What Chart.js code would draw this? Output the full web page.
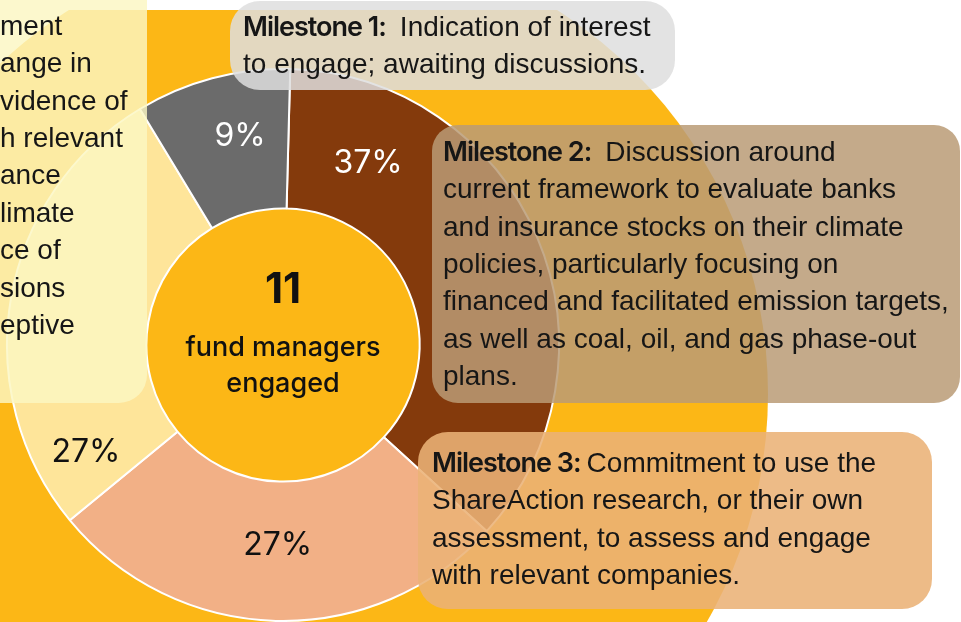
<!DOCTYPE html>
<html>
<head>
<meta charset="utf-8">
<script src="https://cdn.jsdelivr.net/npm/chart.js@4/dist/chart.umd.min.js"></script>
<style>
  html, body { margin: 0; padding: 0; background: #fff; }
  #engagement-chart { display: block; }
</style>
</head>
<body>
<canvas id="engagement-chart" width="961" height="622"></canvas>
<script>
// data: fund managers per milestone, clockwise from top
const milestones = ['Milestone 2', 'Milestone 3', 'Milestone 4', 'Milestone 1'];
const managerCounts = [4, 3, 3, 1];
const percentLabels = ['37%', '27%', '27%', '9%'];
const centerCaption = ['fund managers', 'engaged'];

const milestone1Title = 'Milestone 1:';
const milestone1Text = ['Indication of interest', 'to engage; awaiting discussions.'];
const milestone2Title = 'Milestone 2:';
const milestone2Text = ['Discussion around', 'current framework to evaluate banks', 'and insurance stocks on their climate',
    'policies, particularly focusing on', 'financed and facilitated emission targets,', 'as well as coal, oil, and gas phase-out', 'plans.'];
const milestone3Title = 'Milestone 3:';
const milestone3Text = ['Commitment to use the', 'ShareAction research, or their own', 'assessment, to assess and engage', 'with relevant companies.'];
// milestone 4 box is cut off by the left edge of the picture
const milestone4Text = ['ment', 'ange in', 'vidence of', 'h relevant', 'ance', 'limate', 'ce of', 'sions', 'eptive'];

const sliceColors = ['#843a0c', '#f2b086', '#fee59a', '#6b6b6b'];
const labelColors = ['#ffffff', '#111111', '#111111', '#ffffff'];
// where each label sits: fraction along the slice, fraction across the ring
const labelAlong = [0.18, 0.5, 0.11, 0.6];
const labelAcross = [0.46, 0.46, 0.63, 0.55];

const ORANGE = '#fcb716';
const TEXT = '#161616';

const backdrop = {
    id: 'backdrop',
    beforeDraw(chart) {
        const ctx = chart.ctx;
        ctx.save();
        ctx.fillStyle = '#ffffff';
        ctx.fillRect(0, 0, chart.width, chart.height);
        ctx.beginPath();
        ctx.rect(0, 10, chart.width, chart.height);
        ctx.clip();
        ctx.beginPath();
        ctx.arc(313, 394, 455, 0, Math.PI * 2);
        ctx.fillStyle = ORANGE;
        ctx.fill();
        ctx.restore();
    }
};

const sliceLabels = {
    id: 'sliceLabels',
    afterDatasetsDraw(chart) {
        const ctx = chart.ctx;
        const arcs = chart.getDatasetMeta(0).data;
        ctx.save();
        ctx.font = '400 32px Inter';
        ctx.textAlign = 'center';
        ctx.textBaseline = 'middle';
        arcs.forEach((arc, i) => {
            const p = arc.getProps(['x', 'y', 'startAngle', 'endAngle', 'innerRadius', 'outerRadius'], true);
            const a = p.startAngle + labelAlong[i] * (p.endAngle - p.startAngle);
            const r = p.innerRadius + labelAcross[i] * (p.outerRadius - p.innerRadius);
            ctx.fillStyle = labelColors[i];
            ctx.fillText(percentLabels[i], p.x + r * Math.cos(a), p.y + r * Math.sin(a));
        });
        // centre text
        const c = arcs[0].getProps(['x', 'y'], true);
        const total = managerCounts.reduce((s, v) => s + v, 0);
        ctx.fillStyle = '#111';
        ctx.font = '700 42px Inter';
        ctx.fillText(String(total), c.x, c.y - 55);
        ctx.font = '500 27px Inter';
        ctx.fillText(centerCaption[0], c.x, c.y + 3);
        ctx.fillText(centerCaption[1], c.x, c.y + 39);
        ctx.restore();
    }
};

function drawBox(ctx, x, y, w, h, r, fill) {
    ctx.beginPath();
    ctx.roundRect(x, y, w, h, r);
    ctx.fillStyle = fill;
    ctx.fill();
}

function drawMilestone(ctx, x, y, title, lines, gap) {
    ctx.fillStyle = TEXT;
    ctx.textAlign = 'left';
    ctx.textBaseline = 'middle';
    ctx.font = '600 27px Inter';
    ctx.letterSpacing = '-1px';
    ctx.fillText(title, x, y);
    const tw = ctx.measureText(title).width;
    ctx.letterSpacing = '0px';
    ctx.font = '400 28px "Liberation Sans"';
    ctx.fillText(lines[0], x + tw + gap, y);
    for (let i = 1; i < lines.length; i++) {
        ctx.fillText(lines[i], x, y + i * 37.4);
    }
}

const textBoxes = {
    id: 'textBoxes',
    afterDraw(chart) {
        const ctx = chart.ctx;
        ctx.save();
        drawBox(ctx, -40, -40, 187, 443, 28, 'rgba(251,247,194,0.82)');
        ctx.fillStyle = TEXT;
        ctx.font = '400 28px "Liberation Sans"';
        ctx.textAlign = 'left';
        ctx.textBaseline = 'middle';
        milestone4Text.forEach((t, i) => ctx.fillText(t, 0, 27 + i * 37.4));

        drawBox(ctx, 230, 1, 445, 89, 30, 'rgba(222,222,222,0.85)');
        drawMilestone(ctx, 243, 28, milestone1Title, milestone1Text, 14);

        drawBox(ctx, 432, 125, 528, 278, 26, 'rgba(186,155,118,0.85)');
        drawMilestone(ctx, 443, 153, milestone2Title, milestone2Text, 14);

        drawBox(ctx, 418, 432, 514, 177, 30, 'rgba(235,178,118,0.88)');
        drawMilestone(ctx, 432, 464, milestone3Title, milestone3Text, 6);
        ctx.restore();
    }
};

new Chart(document.querySelector('#engagement-chart').getContext('2d'), {
    type: 'doughnut',
    data: {
        labels: milestones,
        datasets: [{
            data: managerCounts,
            backgroundColor: sliceColors,
            borderColor: '#ffffff',
            borderWidth: 2
        }]
    },
    options: {
        responsive: false,
        animation: false,
        devicePixelRatio: 1,
        rotation: 1.5,
        cutout: '49.5%',
        layout: { padding: { left: 6, top: 68, right: 401, bottom: 0 } },
        plugins: {
            legend: { display: false },
            tooltip: { enabled: false }
        },
        events: []
    },
    plugins: [backdrop, sliceLabels, textBoxes]
});
</script>
</body>
</html>
